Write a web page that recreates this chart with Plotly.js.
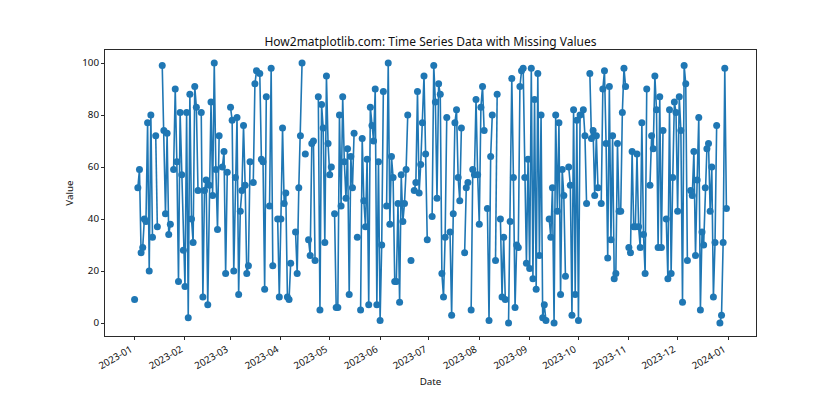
<!DOCTYPE html>
<html>
<head>
<meta charset="utf-8">
<script src="https://cdn.plot.ly/plotly-3.0.1.min.js"></script>
<style>html,body{margin:0;padding:0;background:#fff}</style>
</head>
<body>
<div id="chart" style="width:840px;height:420px"></div>
<script>
const _ = null;
// one value per day, starting 2023-01-01; null = missing
const values = [
 9,_,52,59,27,29,40,39,77,20,
 80,33,_,72,37,_,_,99,74,42,
 73,34,38,_,59,90,62,16,81,57,
 28,14,81,2,88,40,31,91,83,51,
 _,81,10,51,55,7,53,85,49,100,
 59,36,72,_,60,66,19,58,_,83,
 78,20,56,79,11,43,51,76,53,19,
 22,62,_,54,92,97,_,96,63,62,
 13,87,_,45,98,22,_,_,40,10,
 40,75,46,50,10,9,23,_,_,35,
 19,52,72,100,_,65,_,32,26,69,
 70,24,_,87,5,84,75,31,95,69,
 57,60,_,42,6,6,80,45,87,62,
 48,67,11,64,52,73,_,33,_,5,
 71,47,37,63,7,83,76,70,90,7,
 62,1,30,89,_,45,100,38,64,56,
 16,16,46,8,57,39,46,59,80,_,
 24,_,51,54,89,50,61,77,95,65,
 32,_,_,41,99,85,48,92,88,19,
 10,33,79,_,35,3,42,77,82,56,
 47,75,_,27,52,54,_,5,59,57,
 86,57,38,83,91,74,_,44,1,64,
 80,_,24,88,_,40,10,33,9,_,
 0,39,94,56,6,30,29,91,97,98,
 56,23,63,21,98,17,86,13,96,26,
 80,2,7,1,_,40,33,52,0,80,
 43,77,11,59,49,18,_,60,53,3,
 82,11,78,1,80,_,82,72,46,_,
 96,71,74,49,72,52,_,46,90,97,
 69,25,91,32,72,17,19,69,43,43,
 81,98,91,_,29,27,66,37,37,65,
 37,29,77,34,19,90,_,53,72,67,
 95,82,29,87,29,74,_,40,17,82,
 19,56,85,81,43,87,74,8,99,92,
 24,_,51,49,66,26,55,79,5,35,
 30,52,67,69,43,60,10,31,76,_,
 0,3,31,98,44
];
const startDate = Date.UTC(2023, 0, 1);
const dates = values.map((v, i) => new Date(startDate + i * 86400000).toISOString().slice(0, 10));
const tickDates = ["2023-01-01","2023-02-01","2023-03-01","2023-04-01","2023-05-01","2023-06-01","2023-07-01","2023-08-01","2023-09-01","2023-10-01","2023-11-01","2023-12-01","2024-01-01"];
const tickLabels = ["2023-01","2023-02","2023-03","2023-04","2023-05","2023-06","2023-07","2023-08","2023-09","2023-10","2023-11","2023-12","2024-01"];
const yTicks = [0,20,40,60,80,100];
const fontFam = '"Noto Sans", "Open Sans", sans-serif';
const blue = '#1f77b4', ink = '#111111', axisInk = '#2a2a2a';

Plotly.newPlot('chart', [{
  x: dates, y: values, type: 'scatter', mode: 'lines+markers',
  connectgaps: false,
  line: {color: blue, width: 1.6},
  marker: {color: blue, size: 7, line: {width: 0}},
  cliponaxis: false
}], {
  width: 840, height: 420,
  margin: {l: 105.3, r: 84, t: 50.3, b: 83.7, pad: 0},
  paper_bgcolor: '#fff', plot_bgcolor: '#fff',
  showlegend: false,
  font: {family: fontFam, size: 10, color: ink},
  title: {text: 'How2matplotlib.com: Time Series Data with Missing Values',
          font: {family: fontFam, size: 12, color: ink},
          x: 430.5/840, xanchor: 'center', y: 1 - 41.5/420, yanchor: 'middle'},
  xaxis: {
    type: 'date', range: ['2022-12-13 19:12', '2024-01-18 04:48'],
    tickmode: 'array', tickvals: tickDates, ticktext: tickLabels,
    tickangle: -30, ticks: 'outside', ticklen: 3, tickwidth: 1, tickcolor: axisInk,
    ticklabelshift: -4,
    showgrid: false, zeroline: false, showline: true, linecolor: axisInk, linewidth: 1, mirror: true,
    tickfont: {family: fontFam, size: 9.8, color: ink},
    title: {text: 'Date', font: {family: fontFam, size: 9.8, color: ink}, standoff: 7}, automargin: false
  },
  yaxis: {
    range: [-5, 105], tickmode: 'array', tickvals: yTicks, ticktext: yTicks.map(String),
    ticks: 'outside', ticklen: 3, tickwidth: 1, tickcolor: axisInk,
    showgrid: false, zeroline: false, showline: true, linecolor: axisInk, linewidth: 1, mirror: true,
    tickfont: {family: fontFam, size: 9.8, color: ink},
    title: {text: 'Value', font: {family: fontFam, size: 9.8, color: ink}, standoff: 6}, automargin: false
  }
}, {displayModeBar: false, staticPlot: true});
</script>
</body>
</html>
